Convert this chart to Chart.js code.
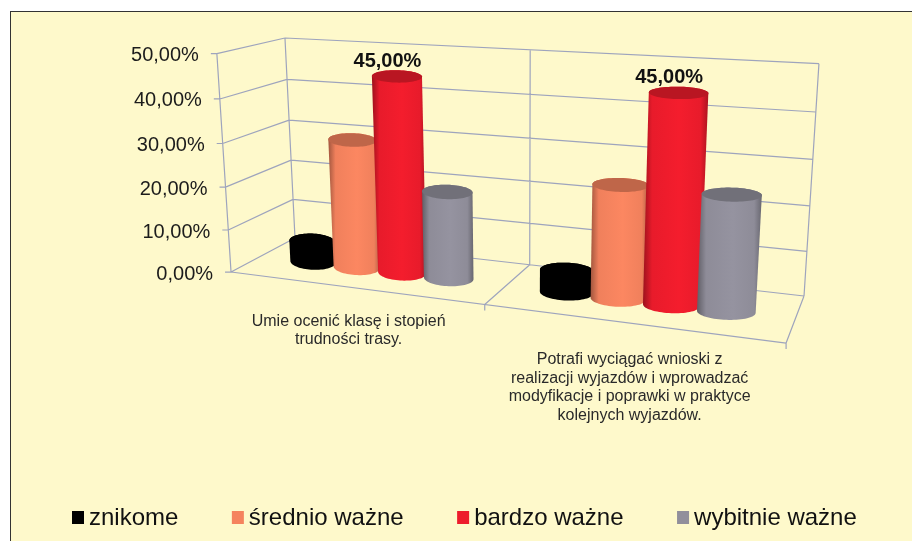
<!DOCTYPE html>
<html>
<head>
<meta charset="utf-8">
<style>
  html, body { margin: 0; height: 100%; background: #fff; overflow: hidden; }
  #panel { position: absolute; left: 10px; top: 11px; right: 0; bottom: 0; background: #fef9cb;
           border-left: 1px solid #333; border-top: 1px solid #333; }
  #wrap { position: absolute; left: 0; top: 0; width: 912px; height: 541px; }
</style>
<script src="https://cdn.jsdelivr.net/npm/chart.js@4"></script>
</head>
<body>
<div id="panel"></div>
<div id="wrap"><canvas id="myChart"></canvas></div>
<script>
// Data
var categories = [
  ['Umie ocenić klasę i stopień', 'trudności trasy.'],
  ['Potrafi wyciągać wnioski z', 'realizacji wyjazdów i wprowadzać', 'modyfikacje i poprawki w praktyce', 'kolejnych wyjazdów.']
];
var seriesNames = ['znikome', 'średnio ważne', 'bardzo ważne', 'wybitnie ważne'];
var znikome = [5, 5];
var srednioWazne = [30, 25];
var bardzoWazne = [45, 45];
var wybitnieWazne = [20, 25];
var seriesColors = ['#000000', '#f5835e', '#ed1c2c', '#918f9b'];
var labelledSeries = [2];

// Perspective of the box: maps (across, toward viewer, up), each 0..1, to the screen
var view = {
  x: [295, 393, -84.2, -22.2],
  y: [238, 15.3, 10.2, -201.6],
  w: [1, -0.1443, -0.0876, -0.0427]
};
var cylinderDepth = 0.54;
var rimTilt = 0.3;
var gridColor = '#9ea4bd';
var textColor = '#1c1c1c';
var catLabelNudge = [[-4, 34], [1, 37]];

function project(u, d, v) {
  var w = view.w[0] + view.w[1] * u + view.w[2] * d + view.w[3] * v;
  return {
    x: (view.x[0] + view.x[1] * u + view.x[2] * d + view.x[3] * v) / w,
    y: (view.y[0] + view.y[1] * u + view.y[2] * d + view.y[3] * v) / w
  };
}

function seg(ctx, a, b) {
  ctx.moveTo(a.x, a.y);
  ctx.lineTo(b.x, b.y);
}

function shade(hex, f) {
  var n = parseInt(hex.slice(1), 16);
  var c = [n >> 16, (n >> 8) & 255, n & 255].map(function (p) {
    return Math.min(255, Math.round(p * f));
  });
  return 'rgb(' + c.join(',') + ')';
}

function drawBox(chart, ctx) {
  var ys = chart.scales.y;
  ctx.save();
  ctx.strokeStyle = gridColor;
  ctx.lineWidth = 1.2;
  ctx.beginPath();
  ys.ticks.forEach(function (t) {
    var v = (t.value - ys.min) / (ys.max - ys.min);
    var f = project(0, 1, v);
    seg(ctx, { x: f.x - 6, y: f.y }, f);
    seg(ctx, f, project(0, 0, v));
    seg(ctx, project(0, 0, v), project(1, 0, v));
  });
  [0, 0.5, 1].forEach(function (u) {
    seg(ctx, project(u, 0, 0), project(u, 0, 1));
    seg(ctx, project(u, 0, 0), project(u, 1, 0));
    var p = project(u, 1, 0);
    if (u > 0) seg(ctx, p, { x: p.x, y: p.y + 6 });
  });
  seg(ctx, project(0, 1, 0), project(0, 1, 1));
  seg(ctx, project(0, 1, 0), project(1, 1, 0));
  ctx.stroke();

  // tick labels follow the slanted front edge of the side wall
  ctx.fillStyle = textColor;
  ctx.font = '20px "Liberation Sans"';
  ctx.textAlign = 'right';
  ctx.textBaseline = 'middle';
  ys.ticks.forEach(function (t) {
    var p = project(0, 1, (t.value - ys.min) / (ys.max - ys.min));
    ctx.fillText(t.label, p.x - 18, p.y + 2);
  });
  ctx.restore();
}

// Rim of a cylinder: wide axis nearly level, short axis stays upright on screen
function ring(u, ru, v) {
  var c = project(u, cylinderDepth, v);
  var e = project(u + ru, cylinderDepth, v);
  var w = project(u - ru, cylinderDepth, v);
  var minor = 6 + (1 - v) * 2;
  var pts = [];
  for (var i = 0; i < 72; i++) {
    var t = i / 72 * Math.PI * 2;
    pts.push({
      x: c.x + (e.x - w.x) / 2 * Math.cos(t),
      y: c.y + (e.y - w.y) / 2 * rimTilt * Math.cos(t) + minor * Math.sin(t)
    });
  }
  return pts;
}

function extremes(pts) {
  var l = 0, r = 0;
  pts.forEach(function (p, i) {
    if (p.x < pts[l].x) l = i;
    if (p.x > pts[r].x) r = i;
  });
  return { l: l, r: r };
}

function drawCylinder(ctx, u, ru, v0, v1, color) {
  var low = ring(u, ru, v0), top = ring(u, ru, v1);
  var a = extremes(low), b = extremes(top);
  var n = low.length, i;
  ctx.beginPath();
  for (i = a.r; i !== a.l; i = (i + 1) % n) ctx.lineTo(low[i].x, low[i].y);
  ctx.lineTo(low[a.l].x, low[a.l].y);
  for (i = b.l; i !== b.r; i = (i + 1) % n) ctx.lineTo(top[i].x, top[i].y);
  ctx.closePath();
  var g = ctx.createLinearGradient(Math.min(low[a.l].x, top[b.l].x), 0, Math.max(low[a.r].x, top[b.r].x), 0);
  g.addColorStop(0, shade(color, 0.66));
  g.addColorStop(0.14, shade(color, 0.98));
  g.addColorStop(0.55, shade(color, 1.03));
  g.addColorStop(0.88, shade(color, 0.98));
  g.addColorStop(1, shade(color, 0.72));
  ctx.fillStyle = g;
  ctx.fill();
  ctx.beginPath();
  top.forEach(function (p) { ctx.lineTo(p.x, p.y); });
  ctx.closePath();
  ctx.fillStyle = shade(color, 0.78);
  ctx.fill();
}

function drawBars(chart, ctx) {
  var area = chart.chartArea, ys = chart.scales.y;
  var span = ys.getPixelForValue(ys.min) - ys.getPixelForValue(ys.max);
  ctx.save();
  categories.forEach(function (c, i) {
    chart.data.datasets.forEach(function (ds, k) {
      var el = chart.getDatasetMeta(k).data[i];
      var u = (el.x - area.left) / area.width;
      var ru = el.width / area.width / 2 * 1.05;
      var v0 = (ys.getPixelForValue(ys.min) - el.base) / span;
      var v1 = (ys.getPixelForValue(ys.min) - el.y) / span;
      drawCylinder(ctx, u, ru, v0, v1, seriesColors[k]);
    });
  });
  // value labels sit on top of the cylinders they belong to
  ctx.fillStyle = '#111';
  ctx.font = 'bold 20px "Liberation Sans"';
  ctx.textAlign = 'center';
  ctx.textBaseline = 'middle';
  labelledSeries.forEach(function (k) {
    chart.getDatasetMeta(k).data.forEach(function (el, i) {
      var u = (el.x - area.left) / area.width;
      var p = project(u, cylinderDepth, (ys.getPixelForValue(ys.min) - el.y) / span);
      var val = chart.data.datasets[k].data[i];
      ctx.fillText(val.toFixed(2).replace('.', ',') + '%', p.x - 9.5, p.y - 15);
    });
  });
  ctx.restore();
}

function drawCategoryLabels(chart, ctx) {
  var xs = chart.scales.x, area = chart.chartArea;
  ctx.save();
  ctx.fillStyle = '#2a2a2a';
  ctx.font = '16px "Liberation Sans"';
  ctx.textAlign = 'center';
  ctx.textBaseline = 'middle';
  categories.forEach(function (lines, i) {
    var p = project((xs.getPixelForValue(i) - area.left) / area.width, 1, 0);
    lines.forEach(function (line, j) {
      ctx.fillText(line, p.x + catLabelNudge[i][0], p.y + catLabelNudge[i][1] + j * 18.4);
    });
  });
  ctx.restore();
}

function drawLegend(chart, ctx) {
  var gap = 53.5, x = 72, y = 518;
  ctx.save();
  ctx.font = '24px "Liberation Sans"';
  ctx.textAlign = 'left';
  ctx.textBaseline = 'middle';
  seriesNames.forEach(function (name, i) {
    ctx.fillStyle = seriesColors[i];
    ctx.fillRect(x, y - 7, 12, 13);
    ctx.fillStyle = '#111';
    ctx.fillText(name, x + 17, y);
    x += 17 + ctx.measureText(name).width + gap;
  });
  ctx.restore();
}

var cylinders3d = {
  id: 'cylinders3d',
  beforeDatasetsDraw: function (chart) {
    var ctx = chart.ctx;
    drawBox(chart, ctx);
    drawBars(chart, ctx);
    drawCategoryLabels(chart, ctx);
    drawLegend(chart, ctx);
    return false;
  }
};

var ctx = document.getElementById('myChart').getContext('2d');
var myChart = new Chart(ctx, {
  type: 'bar',
  data: {
    labels: categories,
    datasets: [
      { label: seriesNames[0], data: znikome, backgroundColor: seriesColors[0] },
      { label: seriesNames[1], data: srednioWazne, backgroundColor: seriesColors[1] },
      { label: seriesNames[2], data: bardzoWazne, backgroundColor: seriesColors[2] },
      { label: seriesNames[3], data: wybitnieWazne, backgroundColor: seriesColors[3] }
    ]
  },
  options: {
    responsive: true,
    maintainAspectRatio: false,
    animation: false,
    layout: { padding: 0 },
    datasets: { bar: { categoryPercentage: 0.74, barPercentage: 1 } },
    scales: {
      x: { display: false },
      y: {
        display: false, min: 0, max: 50,
        ticks: {
          stepSize: 10,
          callback: function (v) { return v.toFixed(2).replace('.', ',') + '%'; }
        }
      }
    },
    plugins: { legend: { display: false }, tooltip: { enabled: false } }
  },
  plugins: [cylinders3d]
});
</script>
</body>
</html>
